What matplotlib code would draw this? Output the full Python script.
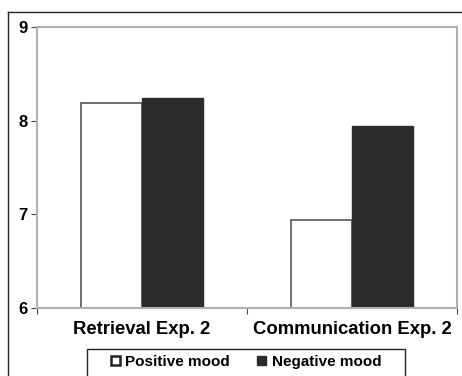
import numpy as np
import matplotlib
matplotlib.use("Agg")
import matplotlib.pyplot as plt
from matplotlib.lines import Line2D
from matplotlib.patches import Patch, Rectangle

plt.rcParams['font.family'] = ['Liberation Sans', 'DejaVu Sans']
plt.rcParams['font.weight'] = 'bold'

# mean ratings per task and mood condition
tasks = ['Retrieval Exp. 2', 'Communication Exp. 2']
positive = [8.19, 6.94]
negative = [8.24, 7.94]
yticks = [6, 7, 8, 9]

W, H = 462, 376
fig = plt.figure(figsize=(W / 100, H / 100), dpi=100)
ax = fig.add_axes([37 / W, 1 - 308 / H, (457 - 37) / W, (308 - 27) / H])

x = np.arange(len(tasks))
bw = 0.29
ax.bar(x - bw / 2, np.array(positive) - 6, bw, bottom=6, color='white',
       edgecolor='#555555', linewidth=1.2)
ax.bar(x + bw / 2, np.array(negative) - 6, bw, bottom=6, color='#2b2b2b',
       edgecolor='#2b2b2b', linewidth=1.0)

ax.set_xlim(-0.5, 1.5)
ax.set_ylim(6, 9)
ax.set_yticks(yticks)
ax.set_yticklabels([str(t) for t in yticks], fontsize=12, fontweight='bold')
ax.set_xticks([-0.5, 0.5, 1.5])
ax.set_xticklabels([])
ax.set_xticks(x, minor=True)
ax.set_xticklabels(tasks, minor=True, fontsize=13.3, fontweight='bold')
ax.tick_params(axis='x', which='minor', length=0, pad=9)
ax.tick_params(axis='x', which='major', length=4, direction='out', color='#444444')
ax.tick_params(axis='y', length=4, direction='out', color='#444444', pad=3)

for s in ax.spines.values():
    s.set_color('#b0b0b0')
    s.set_linewidth(1.5)

# outer frame around the figure (top and left edges)
fig.add_artist(Line2D([8 / W, 1.0], [1 - 12 / H, 1 - 12 / H], color='#222222', lw=1.0))
fig.add_artist(Line2D([8 / W, 8 / W], [0, 1 - 12 / H], color='#222222', lw=1.0))

# legend box, running off the bottom edge
fig.add_artist(Rectangle((87 / W, -0.05), (405 - 87) / W, 1 - 349 / H + 0.05,
                         transform=fig.transFigure, facecolor='white',
                         edgecolor='#222222', lw=1.0))
handles = [Patch(facecolor='white', edgecolor='#222222', linewidth=1.8, label='Positive mood'),
           Patch(facecolor='#2b2b2b', edgecolor='#2b2b2b', label='Negative mood')]
leg = fig.legend(handles=handles, loc='center', ncol=2,
                 bbox_to_anchor=((87 + 405) / 2 / W, 1 - 362 / H),
                 frameon=False, prop={'size': 11, 'weight': 'bold'},
                 handlelength=0.6, handleheight=0.6, handletextpad=0.35,
                 columnspacing=1.8, borderaxespad=0)

fig.savefig('out.png', dpi=100)
